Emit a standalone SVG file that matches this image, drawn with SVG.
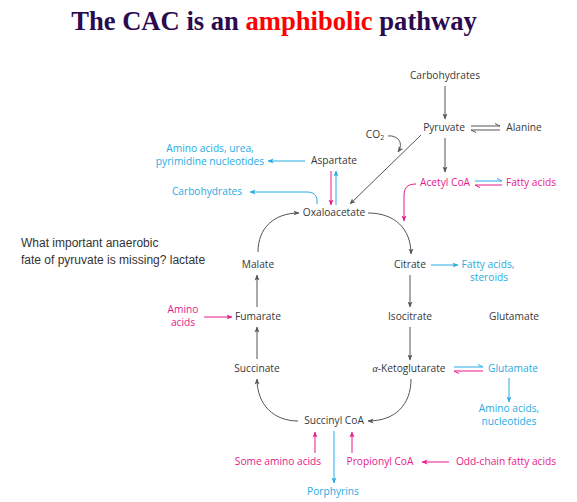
<svg xmlns="http://www.w3.org/2000/svg" width="577" height="502" viewBox="0 0 577 502">
<defs>
<style>
.t{font-family:"Open Sans","Noto Sans","Liberation Sans",sans-serif;font-size:10.2px;text-anchor:middle}
.d{fill:#383838}
.c{fill:#29abe2}
.p{fill:#e8198b}
.g{stroke:#555;stroke-width:1;fill:none}
.cs{stroke:#29abe2;stroke-width:1;fill:none}
.ps{stroke:#e8198b;stroke-width:1;fill:none}
.q{font-family:"Liberation Sans",Arial,sans-serif;font-size:12px;fill:#333}
</style>
<marker id="ag" markerWidth="6" markerHeight="6" refX="5.5" refY="3" orient="auto" markerUnits="userSpaceOnUse"><path d="M0,0.5 L6,3 L0,5.5 L1.5,3 z" fill="#555"/></marker>
<marker id="ac" markerWidth="6" markerHeight="6" refX="5.5" refY="3" orient="auto" markerUnits="userSpaceOnUse"><path d="M0,0.5 L6,3 L0,5.5 L1.5,3 z" fill="#29abe2"/></marker>
<marker id="ap" markerWidth="6" markerHeight="6" refX="5.5" refY="3" orient="auto" markerUnits="userSpaceOnUse"><path d="M0,0.5 L6,3 L0,5.5 L1.5,3 z" fill="#e8198b"/></marker>
</defs>
<rect width="577" height="502" fill="#fff"/>
<text x="274" y="30" text-anchor="middle" font-family="Liberation Serif,'Times New Roman',serif" font-weight="bold" font-size="26.6" fill="#2b0b4f">The CAC is an <tspan fill="#ff0000">amphibolic</tspan> pathway</text>

<g id="question"><text class="q" x="21" y="247">What important anaerobic</text><text class="q" x="21" y="264">fate of pyruvate is missing? lactate</text></g>

<g id="carbohydrates-top"><text class="t d" x="445" y="79">Carbohydrates</text></g>
<g id="pyruvate"><text class="t d" x="444" y="131">Pyruvate</text></g>
<g id="alanine"><text class="t d" x="524" y="131">Alanine</text></g>
<g id="co2"><text class="t d" x="375" y="138">CO<tspan font-size="7" dy="2">2</tspan></text></g>
<g id="acetylcoa"><text class="t p" x="445" y="186">Acetyl CoA</text></g>
<g id="fattyacids-top"><text class="t p" x="531" y="186">Fatty acids</text></g>
<g id="aspartate"><text class="t d" x="334" y="164">Aspartate</text></g>
<g id="aminoacids-urea"><text class="t c" x="210" y="152">Amino acids, urea,</text><text class="t c" x="210" y="165">pyrimidine nucleotides</text></g>
<g id="carbohydrates-left"><text class="t c" x="207" y="195">Carbohydrates</text></g>
<g id="oxaloacetate"><text class="t d" x="334" y="216">Oxaloacetate</text></g>
<g id="malate"><text class="t d" x="258" y="268">Malate</text></g>
<g id="citrate"><text class="t d" x="410" y="268">Citrate</text></g>
<g id="fattyacids-steroids"><text class="t c" x="488" y="268">Fatty acids,</text><text class="t c" x="489" y="281">steroids</text></g>
<g id="aminoacids-left"><text class="t p" x="183" y="313">Amino</text><text class="t p" x="183" y="326">acids</text></g>
<g id="fumarate"><text class="t d" x="258" y="320">Fumarate</text></g>
<g id="isocitrate"><text class="t d" x="410" y="320">Isocitrate</text></g>
<g id="glutamate-gray"><text class="t d" x="514" y="320">Glutamate</text></g>
<g id="succinate"><text class="t d" x="257" y="372">Succinate</text></g>
<g id="akg"><text class="t d" x="409" y="372"><tspan font-family="Liberation Serif,serif" font-style="italic">α</tspan>-Ketoglutarate</text></g>
<g id="glutamate"><text class="t c" x="513" y="372">Glutamate</text></g>
<g id="aminoacids-nucleotides"><text class="t c" x="509" y="412">Amino acids,</text><text class="t c" x="509" y="425">nucleotides</text></g>
<g id="succinylcoa"><text class="t d" x="334" y="424">Succinyl CoA</text></g>
<g id="someaminoacids"><text class="t p" x="278" y="465">Some amino acids</text></g>
<g id="propionylcoa"><text class="t p" x="380" y="465">Propionyl CoA</text></g>
<g id="oddchain"><text class="t p" x="506" y="465">Odd-chain fatty acids</text></g>
<g id="porphyrins"><text class="t c" x="333" y="495">Porphyrins</text></g>

<g id="connectors">
<line class="g" x1="445" y1="86" x2="445" y2="119" marker-end="url(#ag)"/>
<line class="g" x1="445" y1="138" x2="445" y2="172" marker-end="url(#ag)"/>
<path class="g" d="M471,126 L500,126 M495,123.5 L500,126 M500,130 L471,130 M476,132.5 L471,130"/>
<path class="g" d="M388,136 C398,135 404,143 398,152" marker-end="url(#ag)"/>
<line class="g" x1="421" y1="135" x2="350" y2="204" marker-end="url(#ag)"/>
<path class="cs" d="M475,181 L502,181 M497,178.5 L502,181"/>
<path class="ps" d="M502,185 L475,185 M480,187.5 L475,185"/>
<path class="ps" d="M416,184 C407,184 404,188 404,196 L404,221" marker-end="url(#ap)"/>
<line class="cs" x1="305" y1="161" x2="268" y2="161" marker-end="url(#ac)"/>
<line class="ps" x1="331" y1="171" x2="331" y2="205" marker-end="url(#ap)"/>
<line class="cs" x1="336" y1="205" x2="336" y2="171" marker-end="url(#ac)"/>
<path class="cs" d="M317,204 L317,200 C317,195 313,192 307,192 L250,192" marker-end="url(#ac)"/>
<path class="g" d="M258,252 C258,228 274,213 299,213" marker-end="url(#ag)"/>
<path class="g" d="M368,213 C395,213 411,229 411,254" marker-end="url(#ag)"/>
<line class="cs" x1="431" y1="265" x2="458" y2="265" marker-end="url(#ac)"/>
<line class="g" x1="410" y1="275" x2="410" y2="307" marker-end="url(#ag)"/>
<line class="ps" x1="204" y1="317" x2="232" y2="317" marker-end="url(#ap)"/>
<line class="g" x1="257" y1="307" x2="257" y2="275" marker-end="url(#ag)"/>
<line class="g" x1="410" y1="327" x2="410" y2="360" marker-end="url(#ag)"/>
<line class="g" x1="257" y1="359" x2="257" y2="327" marker-end="url(#ag)"/>
<path class="cs" d="M454,367 L483,367 M478,364.5 L483,367"/>
<path class="ps" d="M483,371 L454,371 M459,373.5 L454,371"/>
<line class="cs" x1="509" y1="378" x2="509" y2="402" marker-end="url(#ac)"/>
<path class="g" d="M411,379 C411,405 395,421 368,421" marker-end="url(#ag)"/>
<path class="g" d="M298,421 C274,421 257,405 257,379" marker-end="url(#ag)"/>
<line class="ps" x1="315" y1="453" x2="315" y2="432" marker-end="url(#ap)"/>
<line class="cs" x1="334" y1="431" x2="334" y2="483" marker-end="url(#ac)"/>
<line class="ps" x1="352" y1="453" x2="352" y2="432" marker-end="url(#ap)"/>
<line class="ps" x1="449" y1="462" x2="422" y2="462" marker-end="url(#ap)"/>
</g>
</svg>
